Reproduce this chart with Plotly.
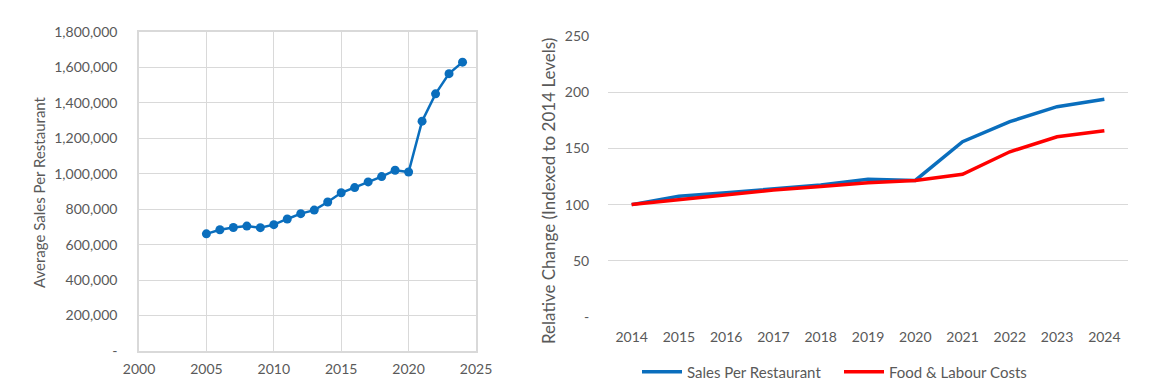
import plotly.graph_objects as go

# Left chart data
years_left = list(range(2005, 2025))
avg_sales = [661000, 684000, 697000, 705000, 696000, 713000, 745000, 775000, 795000, 841000,
             893000, 922000, 954000, 984000, 1020000, 1010000, 1297000, 1451000, 1565000, 1630000]

# Right chart data
years_right = [str(y) for y in range(2014, 2025)]
sales_index = [100, 107.4, 110.5, 114, 117.5, 122.6, 121.5, 156, 173.8, 187.1, 193.7]
cost_index = [100, 104.4, 109, 113, 116, 119.5, 121.5, 127, 147, 160.4, 165.7]

left_yticks = [0, 200000, 400000, 600000, 800000, 1000000, 1200000, 1400000, 1600000, 1800000]
left_yticktext = ["-"] + [f"{v:,}" for v in left_yticks[1:]]
right_yticks = [0, 50, 100, 150, 200, 250]
right_yticktext = ["-", "50", "100", "150", "200", "250"]

BLUE = "#0A6EBD"
RED = "#FF0000"
GRID = "#d9d9d9"
TXT = "#595959"
FONT = "Lato"

# page has an 8px body margin; figure sized to fit the window
W, H = 1149, 383
OFF = 8


def px(x):
    return (x - OFF) / W


def py(y):
    return 1 - (y - OFF) / H


fig = go.Figure()

fig.add_trace(go.Scatter(
    x=years_left, y=avg_sales, mode="lines+markers",
    line=dict(color=BLUE, width=2.5), marker=dict(color=BLUE, size=9),
    xaxis="x", yaxis="y", showlegend=False))

fig.add_trace(go.Scatter(
    x=years_right, y=sales_index, mode="lines", name="Sales Per Restaurant",
    line=dict(color=BLUE, width=3.5), xaxis="x2", yaxis="y2"))
fig.add_trace(go.Scatter(
    x=years_right, y=cost_index, mode="lines", name="Food & Labour Costs",
    line=dict(color=RED, width=3.5), xaxis="x2", yaxis="y2"))

axis_font = dict(family=FONT, size=14, color=TXT)
clear = "rgba(0,0,0,0)"

fig.update_layout(
    width=W, height=H,
    margin=dict(l=0, r=0, t=0, b=0),
    paper_bgcolor="white", plot_bgcolor="white",
    font=dict(family=FONT, size=14, color=TXT),
    xaxis=dict(domain=[px(139), px(476)], anchor="y", range=[2000, 2025],
               tickvals=[2000, 2005, 2010, 2015, 2020, 2025],
               showgrid=True, gridcolor=GRID, gridwidth=1,
               showline=True, linecolor=GRID, linewidth=1.5, mirror=True,
               zeroline=False, tickfont=axis_font, ticks="outside", ticklen=4,
               tickcolor=clear, automargin=False),
    yaxis=dict(domain=[py(351), py(32)], anchor="x", range=[0, 1800000],
               tickvals=left_yticks, ticktext=left_yticktext,
               showgrid=True, gridcolor=GRID, gridwidth=1,
               showline=True, linecolor=GRID, linewidth=1.5, mirror=True,
               zeroline=False, tickfont=axis_font, ticks="outside", ticklen=17,
               tickcolor=clear, automargin=False),
    xaxis2=dict(domain=[px(608), px(1128)], anchor="y2", type="category",
                range=[-0.5, 10.5], showgrid=False, showline=False, zeroline=False,
                tickfont=axis_font, ticks="outside", ticklen=7,
                tickcolor=clear, automargin=False),
    yaxis2=dict(domain=[py(317), py(36)], anchor="x2", range=[0, 250],
                tickvals=right_yticks, ticktext=right_yticktext,
                showgrid=True, gridcolor=GRID, gridwidth=1, zeroline=False,
                showline=False, tickfont=axis_font, ticks="outside", ticklen=15,
                tickcolor=clear, automargin=False),
    legend=dict(orientation="h", x=px(637), xanchor="left", y=py(372), yanchor="middle",
                font=dict(family=FONT, size=15, color=TXT), itemwidth=40,
                entrywidth=147, bgcolor="rgba(0,0,0,0)"),
    annotations=[
        dict(text="Average Sales Per Restaurant", textangle=-90, showarrow=False,
             xref="paper", yref="paper", x=px(39), y=py(192),
             xanchor="center", yanchor="middle", font=dict(family=FONT, size=15, color=TXT)),
        dict(text="Relative Change (Indexed to 2014 Levels)", textangle=-90, showarrow=False,
             xref="paper", yref="paper", x=px(548), y=py(191),
             xanchor="center", yanchor="middle", font=dict(family=FONT, size=17, color=TXT)),
    ],
)

fig.write_html("out.html")
